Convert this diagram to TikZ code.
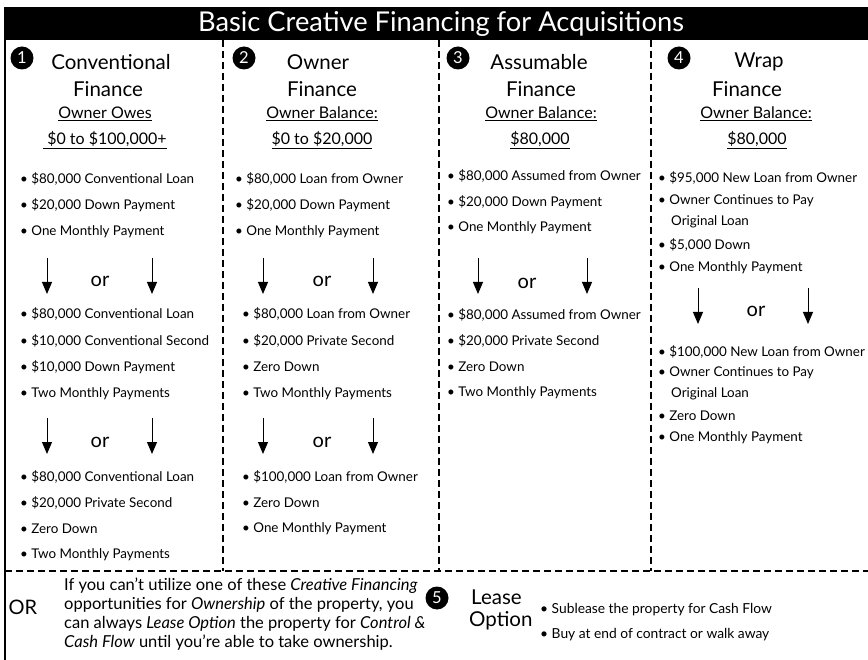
\documentclass[tikz,border=0pt]{standalone}
\usepackage{fontspec}
\setmainfont{Lato}
\usetikzlibrary{arrows.meta}
\tikzset{
  badge/.style={circle, fill=black, text=white, inner sep=0pt, minimum size=23pt, font=\fontsize{16.5}{16.5}\selectfont},
  hdr/.style={inner sep=0pt, font=\fontsize{20.5}{20.5}\selectfont},
  subhdr/.style={inner sep=0pt, font=\fontsize{16}{16}\selectfont},
  item/.style={anchor=west, inner sep=0pt, font=\fontsize{13.4}{13.4}\selectfont},
  orlbl/.style={inner sep=0pt, font=\fontsize{20}{20}\selectfont},
  arr/.style={-{Triangle[width=10pt,length=12pt]}, line width=1pt},
  divider/.style={line width=1.2pt, dash pattern=on 7pt off 4pt},
  para/.style={anchor=west, inner sep=0pt, font=\fontsize{16.5}{16.5}\selectfont},
}
\begin{document}
\begin{tikzpicture}[x=1pt,y=-1pt]
\clip (0,0) rectangle (868,660);
\fill[white] (0,0) rectangle (868,660);
% title bar
\fill[black] (4,7) rectangle (868,40);
\node[text=white, inner sep=0pt, font=\fontsize{27.3}{27.3}\selectfont] (title) at (441,24) {Basic Creative Financing for Acquisitions};
% frame
\coordinate (lt) at (5,40);
\coordinate (lb) at (5,660);
\draw[line width=1.5pt] (lt) -- (lb);
\coordinate (d1t) at (223,40); \coordinate (d1b) at (223,571);
\coordinate (d2t) at (439,40); \coordinate (d2b) at (439,571);
\coordinate (d3t) at (651,40); \coordinate (d3b) at (651,571);
\coordinate (hl) at (5,571); \coordinate (hr) at (868,571);
\draw[divider] (d1t) -- (d1b);
\draw[divider] (d2t) -- (d2b);
\draw[divider] (d3t) -- (d3b);
\draw[divider] (hl) -- (hr);

% ---------- column 1
\node[badge] (b1) at (22,58) {1};
\node[hdr] (h1a) at (111,62) {Conventional};
\node[hdr] (h1b) at (108,89) {Finance};
\node[subhdr] (s1a) at (105,114) {\underline{Owner Owes}};
\node[subhdr] (s1b) at (105,140) {\underline{\ \$0 to \$100,000+}};
\node[item] (c1i1) at (20,179) {• \$80,000 Conventional Loan};
\node[item] (c1i2) at (20,205) {• \$20,000 Down Payment};
\node[item] (c1i3) at (20,232) {• One Monthly Payment};
\coordinate (c1a1s) at (47,258); \coordinate (c1a1e) at (47,294);
\coordinate (c1a2s) at (152,258); \coordinate (c1a2e) at (152,294);
\draw[arr] (c1a1s) -- (c1a1e);
\draw[arr] (c1a2s) -- (c1a2e);
\node[orlbl] (c1or1) at (100,281) {or};
\node[item] (c1i4) at (20,314) {• \$80,000 Conventional Loan};
\node[item] (c1i5) at (20,341) {• \$10,000 Conventional Second};
\node[item] (c1i6) at (20,367) {• \$10,000 Down Payment};
\node[item] (c1i7) at (20,394) {• Two Monthly Payments};
\coordinate (c1a3s) at (47,418); \coordinate (c1a3e) at (47,454);
\coordinate (c1a4s) at (152,418); \coordinate (c1a4e) at (152,454);
\draw[arr] (c1a3s) -- (c1a3e);
\draw[arr] (c1a4s) -- (c1a4e);
\node[orlbl] (c1or2) at (100,442) {or};
\node[item] (c1i8) at (20,477) {• \$80,000 Conventional Loan};
\node[item] (c1i9) at (20,503) {• \$20,000 Private Second};
\node[item] (c1i10) at (20,529) {• Zero Down};
\node[item] (c1i11) at (20,555) {• Two Monthly Payments};

% ---------- column 2
\node[badge] (b2) at (244,58) {2};
\node[hdr] (h2a) at (318,62) {Owner};
\node[hdr] (h2b) at (322,89) {Finance};
\node[subhdr] (s2a) at (322,114) {\underline{Owner Balance:}};
\node[subhdr] (s2b) at (322,140) {\underline{\$0 to \$20,000}};
\node[item] (c2i1) at (235,179) {• \$80,000 Loan from Owner};
\node[item] (c2i2) at (235,205) {• \$20,000 Down Payment};
\node[item] (c2i3) at (235,232) {• One Monthly Payment};
\coordinate (c2a1s) at (263,258); \coordinate (c2a1e) at (263,294);
\coordinate (c2a2s) at (373,258); \coordinate (c2a2e) at (373,294);
\draw[arr] (c2a1s) -- (c2a1e);
\draw[arr] (c2a2s) -- (c2a2e);
\node[orlbl] (c2or1) at (322,281) {or};
\node[item] (c2i4) at (242,314) {• \$80,000 Loan from Owner};
\node[item] (c2i5) at (242,341) {• \$20,000 Private Second};
\node[item] (c2i6) at (242,367) {• Zero Down};
\node[item] (c2i7) at (242,394) {• Two Monthly Payments};
\coordinate (c2a3s) at (263,418); \coordinate (c2a3e) at (263,454);
\coordinate (c2a4s) at (373,418); \coordinate (c2a4e) at (373,454);
\draw[arr] (c2a3s) -- (c2a3e);
\draw[arr] (c2a4s) -- (c2a4e);
\node[orlbl] (c2or2) at (322,442) {or};
\node[item] (c2i8) at (242,477) {• \$100,000 Loan from Owner};
\node[item] (c2i9) at (242,503) {• Zero Down};
\node[item] (c2i10) at (242,529) {• One Monthly Payment};

% ---------- column 3
\node[badge] (b3) at (458,58) {3};
\node[hdr] (h3a) at (539,62) {Assumable};
\node[hdr] (h3b) at (541,89) {Finance};
\node[subhdr] (s3a) at (541,114) {\underline{Owner Balance:}};
\node[subhdr] (s3b) at (540,140) {\underline{\$80,000}};
\node[item] (c3i1) at (447,176) {• \$80,000 Assumed from Owner};
\node[item] (c3i2) at (447,202) {• \$20,000 Down Payment};
\node[item] (c3i3) at (447,228) {• One Monthly Payment};
\coordinate (c3a1s) at (478,258); \coordinate (c3a1e) at (478,294);
\coordinate (c3a2s) at (587,258); \coordinate (c3a2e) at (587,294);
\draw[arr] (c3a1s) -- (c3a1e);
\draw[arr] (c3a2s) -- (c3a2e);
\node[orlbl] (c3or1) at (527,283) {or};
\node[item] (c3i4) at (447,315) {• \$80,000 Assumed from Owner};
\node[item] (c3i5) at (447,341) {• \$20,000 Private Second};
\node[item] (c3i6) at (447,367) {• Zero Down};
\node[item] (c3i7) at (447,393) {• Two Monthly Payments};

% ---------- column 4
\node[badge] (b4) at (679,58) {4};
\node[hdr] (h4a) at (759,62) {Wrap};
\node[hdr] (h4b) at (747,89) {Finance};
\node[subhdr] (s4a) at (756,114) {\underline{Owner Balance:}};
\node[subhdr] (s4b) at (757,140) {\underline{\$80,000}};
\node[item] (c4i1) at (658,178) {• \$95,000 New Loan from Owner};
\node[item] (c4i2) at (658,201) {• Owner Continues to Pay};
\node[item] (c4i2b) at (671,222) {Original Loan};
\node[item] (c4i3) at (658,245) {• \$5,000 Down};
\node[item] (c4i4) at (658,268) {• One Monthly Payment};
\coordinate (c4a1s) at (698,288); \coordinate (c4a1e) at (698,324);
\coordinate (c4a2s) at (808,288); \coordinate (c4a2e) at (808,324);
\draw[arr] (c4a1s) -- (c4a1e);
\draw[arr] (c4a2s) -- (c4a2e);
\node[orlbl] (c4or1) at (756,311) {or};
\node[item] (c4i5) at (658,352) {• \$100,000 New Loan from Owner};
\node[item] (c4i6) at (658,373) {• Owner Continues to Pay};
\node[item] (c4i6b) at (671,394) {Original Loan};
\node[item] (c4i7) at (658,416) {• Zero Down};
\node[item] (c4i8) at (658,438) {• One Monthly Payment};

% ---------- bottom
\node[inner sep=0pt, font=\fontsize{20}{20}\selectfont] (orbig) at (23,607) {OR};
\node[para] (p1) at (64,586) {If you can’t utilize one of these \textit{Creative Financing}};
\node[para] (p2) at (64,605) {opportunities for \textit{Ownership} of the property, you};
\node[para] (p3) at (64,624) {can always \textit{Lease Option} the property for \textit{Control \&}};
\node[para] (p4) at (64,643) {\textit{Cash Flow} until you’re able to take ownership.};
\node[badge] (b5) at (437,598) {5};
\node[hdr, anchor=west] (l1) at (471,597) {Lease};
\node[hdr, anchor=west] (l2) at (469,621) {Option};
\node[item, font=\fontsize{13.8}{13.8}\selectfont] (l3) at (540,610) {• Sublease the property for Cash Flow};
\node[item, font=\fontsize{13.8}{13.8}\selectfont] (l4) at (540,635) {• Buy at end of contract or walk away};
\end{tikzpicture}
\end{document}
